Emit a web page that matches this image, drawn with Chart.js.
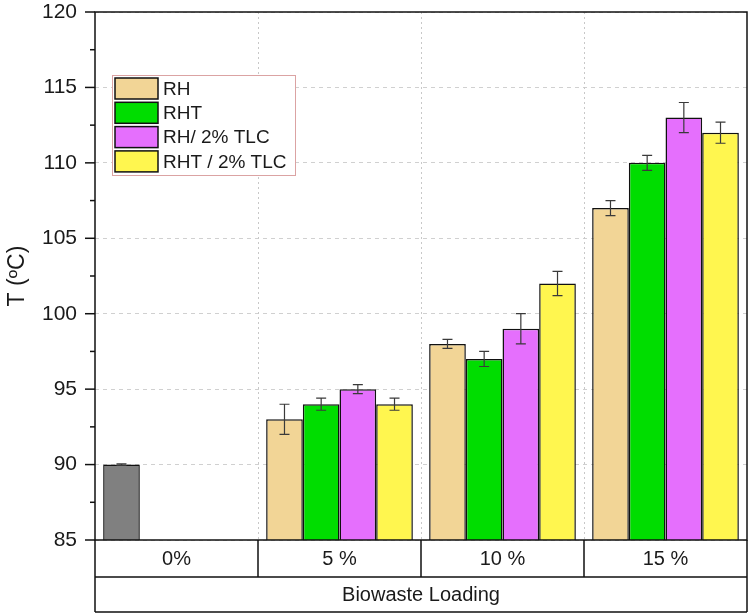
<!DOCTYPE html>
<html>
<head>
<meta charset="utf-8">
<script src="https://cdn.jsdelivr.net/npm/chart.js@4.4.1/dist/chart.umd.min.js"></script>
<style>
  html, body { margin: 0; padding: 0; background: #fff; }
  #wrap { width: 750px; height: 616px; }
</style>
</head>
<body>
<div id="wrap"><canvas id="chart" width="750" height="616"></canvas></div>
<script>
// --- Data ---
const categories = ['0%', '5 %', '10 %', '15 %'];
const seriesNames = ['RH', 'RHT', 'RH/ 2% TLC', 'RHT / 2% TLC'];

const rhValues = [90, 93, 98, 107];
const rhErrors = [0.05, 1, 0.3, 0.5];
const rhtValues = [null, 94, 97, 110];
const rhtErrors = [null, 0.4, 0.5, 0.5];
const rhTlcValues = [null, 95, 99, 113];
const rhTlcErrors = [null, 0.3, 1, 1];
const rhtTlcValues = [null, 94, 102, 112];
const rhtTlcErrors = [null, 0.4, 0.8, 0.7];

const yMin = 85, yMax = 120, yStep = 5;
const yTitle = 'T (ºC)';
const xTitle = 'Biowaste Loading';

// --- Styles ---
const FONT = 'Arial, "Liberation Sans", sans-serif';
const seriesColors = ['#f2d596', '#00dd00', '#e56ffd', '#fff64f'];
const baseColor = '#808080';
const ink = '#111';

const values = [rhValues, rhtValues, rhTlcValues, rhtTlcValues];
const errors = [rhErrors, rhtErrors, rhTlcErrors, rhtTlcErrors];

const datasets = seriesNames.map((name, i) => ({
  label: name,
  data: values[i],
  errors: errors[i],
  // first bar of RH is the neat (0%) sample, drawn grey
  backgroundColor: i === 0 ? categories.map((_, k) => k === 0 ? baseColor : seriesColors[0]) : seriesColors[i],
  borderColor: ink,
  borderWidth: 1.5,
  borderSkipped: false,
  categoryPercentage: 0.9,
  barPercentage: 1.0
}));

function boundaries(xs) {
  const out = [];
  for (let i = 0; i < categories.length - 1; i++) {
    out.push((xs.getPixelForValue(i) + xs.getPixelForValue(i + 1)) / 2);
  }
  return out;
}

const decor = {
  id: 'decor',
  beforeDatasetsDraw(chart) {
    const { ctx, chartArea: a, scales: { x, y } } = chart;
    ctx.save();
    // dotted vertical lines between groups
    ctx.strokeStyle = '#c8c8c8';
    ctx.lineWidth = 1;
    ctx.setLineDash([2, 3]);
    boundaries(x).forEach(bx => {
      ctx.beginPath();
      ctx.moveTo(Math.round(bx) + 0.5, a.top);
      ctx.lineTo(Math.round(bx) + 0.5, a.bottom);
      ctx.stroke();
    });
    ctx.setLineDash([]);
    // major + minor ticks on the left axis
    ctx.strokeStyle = ink;
    ctx.lineWidth = 1.5;
    for (let v = yMin; v <= yMax; v += yStep / 2) {
      const py = y.getPixelForValue(v);
      const len = (v - yMin) % yStep === 0 ? 10 : 5;
      ctx.beginPath();
      ctx.moveTo(a.left - len, py);
      ctx.lineTo(a.left, py);
      ctx.stroke();
    }
    ctx.restore();
  },
  afterDatasetsDraw(chart) {
    const { ctx, scales: { y } } = chart;
    ctx.save();
    ctx.strokeStyle = '#3a3a3a';
    ctx.lineWidth = 1.2;
    chart.data.datasets.forEach((ds, di) => {
      const meta = chart.getDatasetMeta(di);
      meta.data.forEach((bar, k) => {
        const v = ds.data[k], e = ds.errors[k];
        if (v == null || e == null) return;
        const top = y.getPixelForValue(v + e);
        const bot = y.getPixelForValue(v - e);
        const cx = bar.x;
        ctx.beginPath();
        ctx.moveTo(cx, top); ctx.lineTo(cx, bot);
        ctx.moveTo(cx - 5, top); ctx.lineTo(cx + 5, top);
        ctx.moveTo(cx - 5, bot); ctx.lineTo(cx + 5, bot);
        ctx.stroke();
      });
    });
    ctx.restore();
  },
  afterDraw(chart) {
    const { ctx, chartArea: a, scales: { x } } = chart;
    ctx.save();
    ctx.strokeStyle = ink;
    ctx.lineWidth = 1.5;
    // frame
    ctx.strokeRect(a.left, a.top, a.right - a.left, a.bottom - a.top);

    // category table under the plot
    const r1 = a.bottom + 37, r2 = a.bottom + 72;
    ctx.beginPath();
    ctx.moveTo(a.left, a.bottom); ctx.lineTo(a.left, r2);
    ctx.moveTo(a.right, a.bottom); ctx.lineTo(a.right, r2);
    ctx.moveTo(a.left, r1); ctx.lineTo(a.right, r1);
    ctx.moveTo(a.left, r2); ctx.lineTo(a.right, r2);
    boundaries(x).forEach(bx => { ctx.moveTo(bx, a.bottom); ctx.lineTo(bx, r1); });
    ctx.stroke();

    ctx.fillStyle = '#1a1a1a';
    ctx.font = '20px ' + FONT;
    ctx.textAlign = 'center';
    ctx.textBaseline = 'middle';
    categories.forEach((c, i) => ctx.fillText(c, x.getPixelForValue(i), (a.bottom + r1) / 2 + 1));
    ctx.fillText(xTitle, (a.left + a.right) / 2, (r1 + r2) / 2 + 1);

    // legend
    const lx = 112, ly = 75, lw = 183, lh = 100;
    ctx.fillStyle = '#fff';
    ctx.fillRect(lx, ly, lw, lh);
    ctx.strokeStyle = '#dba3a3';
    ctx.lineWidth = 1;
    ctx.strokeRect(lx + 0.5, ly + 0.5, lw, lh);
    ctx.font = '19px ' + FONT;
    ctx.textAlign = 'left';
    seriesNames.forEach((name, i) => {
      const sy = ly + 3 + i * 24.3;
      ctx.fillStyle = seriesColors[i];
      ctx.fillRect(lx + 3, sy, 43, 21);
      ctx.strokeStyle = ink;
      ctx.lineWidth = 1.5;
      ctx.strokeRect(lx + 3, sy, 43, 21);
      ctx.fillStyle = '#1a1a1a';
      ctx.fillText(name, lx + 51, sy + 11.5);
    });
    ctx.restore();
  }
};

new Chart(document.getElementById('chart'), {
  type: 'bar',
  data: { labels: categories, datasets },
  options: {
    responsive: false,
    animation: false,
    layout: { padding: { top: 12, right: 3, bottom: 76, left: 0 } },
    plugins: { legend: { display: false }, tooltip: { enabled: false } },
    scales: {
      x: { display: false, grid: { display: false } },
      y: {
        min: yMin,
        max: yMax,
        ticks: { stepSize: yStep, padding: 8, color: '#1a1a1a', font: { family: FONT, size: 21 } },
        grid: {
          color: '#d0d0d0', lineWidth: 1, tickLength: 10,
          tickColor: 'rgba(0,0,0,0)', tickBorderDash: []
        },
        border: { display: false, dash: [4, 4] },
        title: { display: true, text: yTitle, color: '#1a1a1a', font: { family: FONT, size: 23 }, padding: { top: 4, bottom: 0 } },
        afterFit(scale) {
          scale.width = 95;
          scale.paddingTop = 0;
          scale.paddingBottom = 0;
        }
      }
    }
  },
  plugins: [decor]
});
</script>
</body>
</html>
